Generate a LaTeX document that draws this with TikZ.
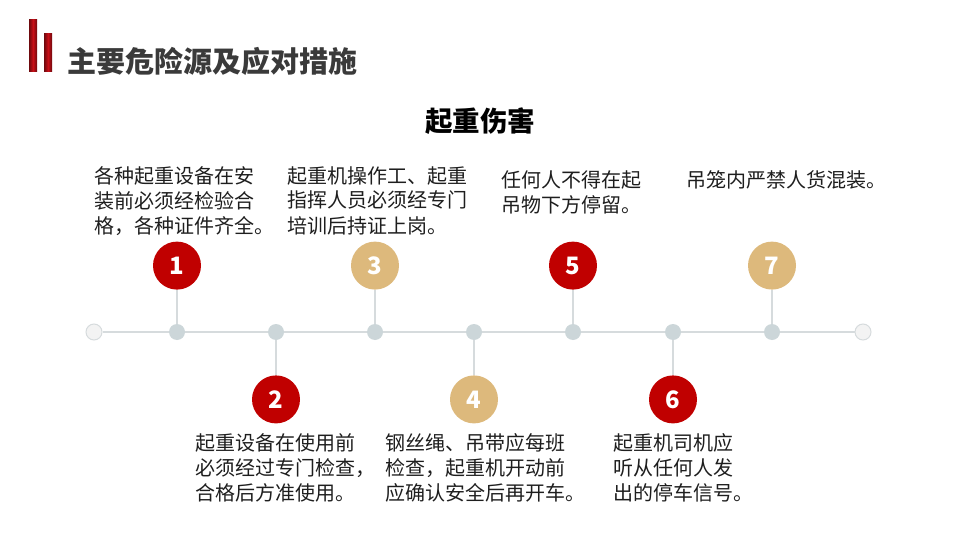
\documentclass[tikz,border=0pt]{standalone}
\usepackage{fontspec}
\setmainfont{Noto Sans}
\newfontfamily\cjk{Noto Sans CJK SC}
\usepackage{tikz}
\usetikzlibrary{positioning, calc}
\usepackage{xcolor}
\definecolor{barred}{RGB}{200,16,24}
\definecolor{deepred}{RGB}{192,0,0}
\definecolor{sandgold}{RGB}{221,185,124}
\definecolor{titlegray}{RGB}{58,58,58}
\definecolor{textblack}{RGB}{30,30,30}
\definecolor{linegray}{RGB}{214,219,221}
\definecolor{dotgray}{RGB}{204,214,217}
\definecolor{endgray}{RGB}{243,243,243}

\begin{document}
\begin{tikzpicture}[
    x=1pt, y=-1pt,
    numcircle/.style={circle, fill=#1, minimum size=48pt, inner sep=0, text=white, font=\cjk\bfseries\fontsize{24pt}{24pt}\selectfont},
    stopdot/.style={circle, fill=dotgray, minimum size=16pt, inner sep=0},
    enddot/.style={circle, fill=endgray, draw=linegray, line width=1pt, minimum size=16pt, inner sep=0},
    tasknote/.style={inner sep=0, align=left, anchor=north west, font=\cjk\fontsize{20pt}{25pt}\selectfont, text=textblack},
    link/.style={linegray, line width=1.5pt},
]
    \useasboundingbox (0,0) rectangle (960,540);

    % Header
    \shade[left color=barred!55!black, right color=barred!55!black, middle color=barred] (29,20) rectangle (37,72);
    \shade[left color=barred!55!black, right color=barred!55!black, middle color=barred] (44,34) rectangle (52,72);
    \node[anchor=west, inner sep=0, text=titlegray, font=\cjk\bfseries\fontsize{29pt}{29pt}\selectfont] (title) at (67,61) {主要危险源及应对措施};
    \node[inner sep=0, text=black, font=\cjk\bfseries\fontsize{27.5pt}{27.5pt}\selectfont] (topic) at (480,121) {起重伤害};

    % Timeline
    \node[enddot] (start) at (94,332) {};
    \node[enddot] (stop) at (863,332) {};
    \node[stopdot] (n1) at (177,332) {};
    \node[stopdot] (n2) at (276,332) {};
    \node[stopdot] (n3) at (375,332) {};
    \node[stopdot] (n4) at (474,332) {};
    \node[stopdot] (n5) at (573,332) {};
    \node[stopdot] (n6) at (673,332) {};
    \node[stopdot] (n7) at (772,332) {};

    % Number circles
    \node[numcircle=deepred, above=34pt of n1] (c1) {1};
    \node[numcircle=deepred, below=35pt of n2] (c2) {2};
    \node[numcircle=sandgold, above=34pt of n3] (c3) {3};
    \node[numcircle=sandgold, below=35pt of n4] (c4) {4};
    \node[numcircle=deepred, above=34pt of n5] (c5) {5};
    \node[numcircle=deepred, below=35pt of n6] (c6) {6};
    \node[numcircle=sandgold, above=34pt of n7] (c7) {7};

    % Connectors
    \draw[link] (start) -- (n1) -- (n2) -- (n3) -- (n4) -- (n5) -- (n6) -- (n7) -- (stop);
    \draw[link] (n1) -- (c1);
    \draw[link] (n2) -- (c2);
    \draw[link] (n3) -- (c3);
    \draw[link] (n4) -- (c4);
    \draw[link] (n5) -- (c5);
    \draw[link] (n6) -- (c6);
    \draw[link] (n7) -- (c7);

    % Measures
    \node[tasknote] (d1) at (94,166) {各种起重设备在安\\装前必须经检验合\\格，各种证件齐全。};
    \node[tasknote] (d3) at (287,166) {起重机操作工、起重\\指挥人员必须经专门\\培训后持证上岗。};
    \node[tasknote] (d5) at (501,170) {任何人不得在起\\吊物下方停留。};
    \node[tasknote] (d7) at (686,170) {吊笼内严禁人货混装。};
    \node[tasknote] (d2) at (195,433) {起重设备在使用前\\必须经过专门检查，\\合格后方准使用。};
    \node[tasknote] (d4) at (385,433) {钢丝绳、吊带应每班\\检查，起重机开动前\\应确认安全后再开车。};
    \node[tasknote] (d6) at (613,433) {起重机司机应\\听从任何人发\\出的停车信号。};

\end{tikzpicture}
\end{document}
